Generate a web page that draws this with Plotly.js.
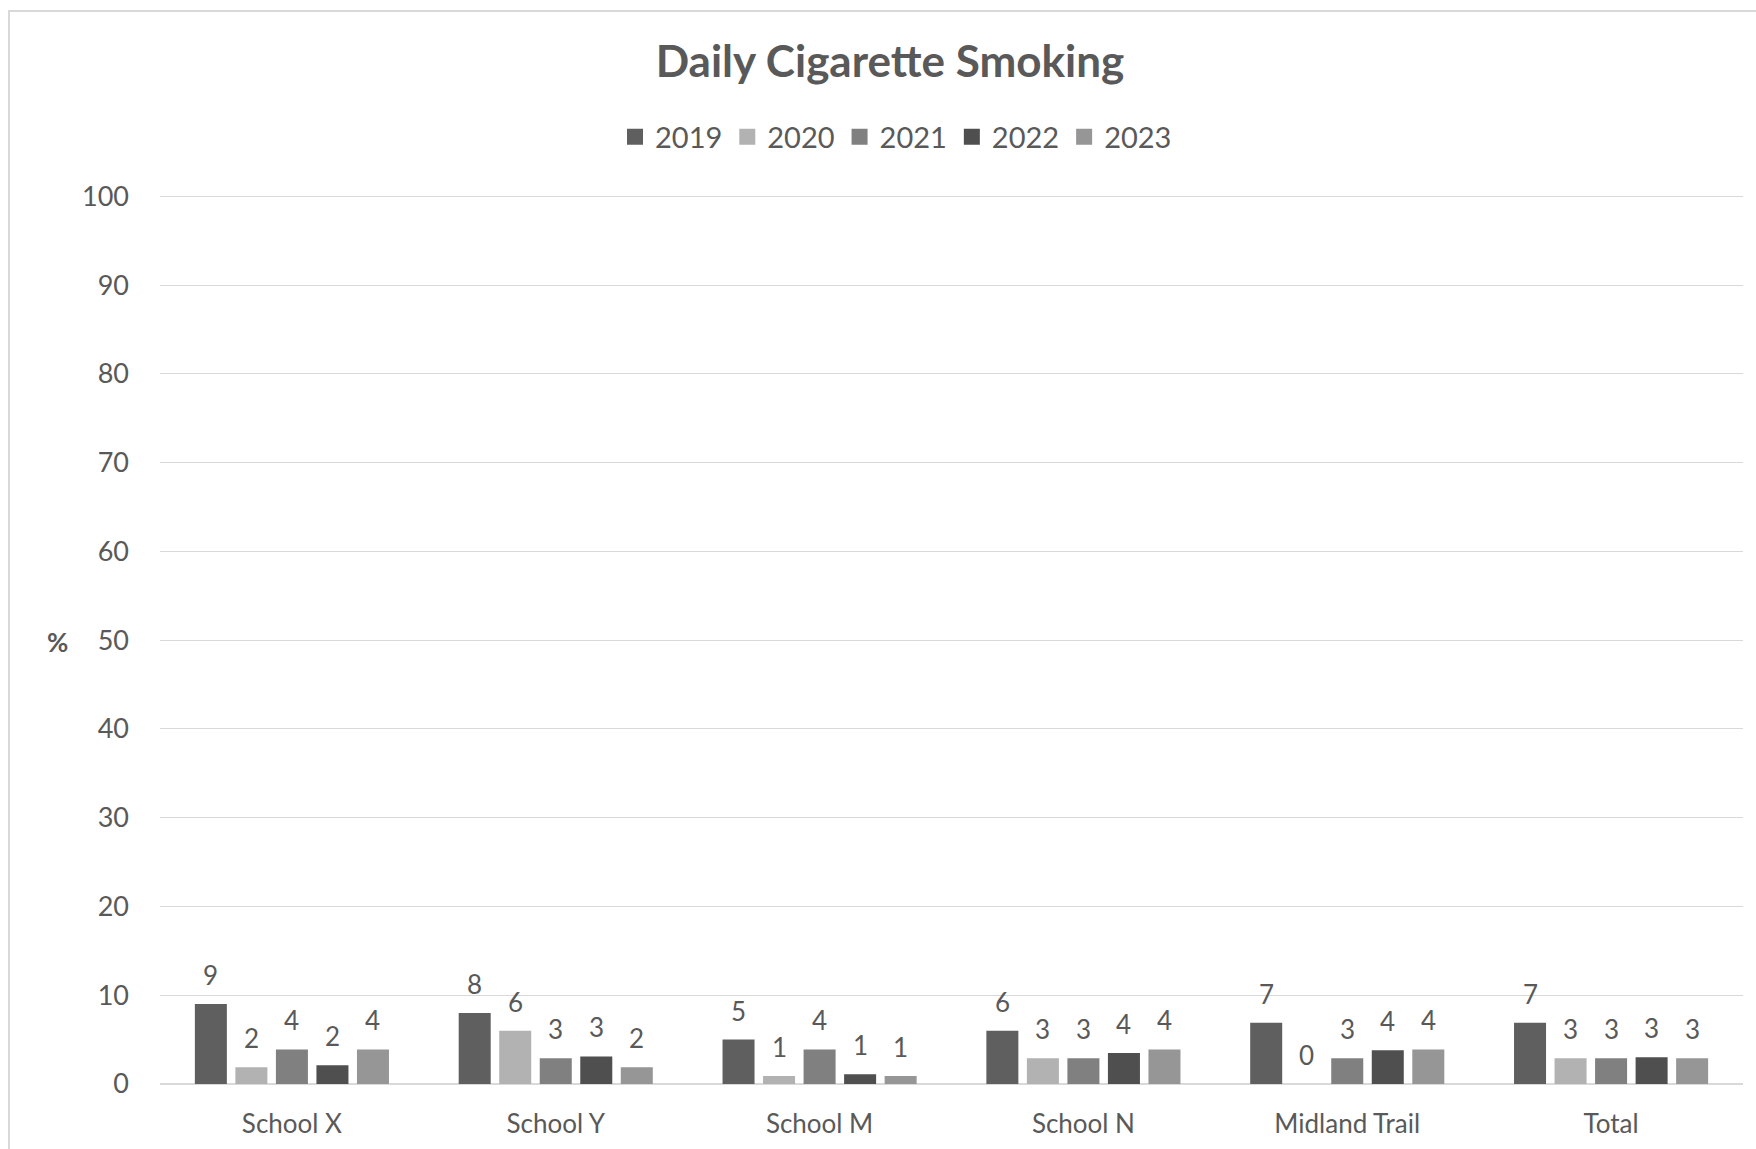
<!DOCTYPE html>
<html>
<head>
<meta charset="utf-8">
<script src="https://cdn.plot.ly/plotly-3.0.1.min.js"></script>
<style>html,body{margin:0;padding:0;background:#fff;}#chart{width:1756px;height:1149px;}</style>
</head>
<body>
<div id="chart"></div>
<script>
var categories = ["School X", "School Y", "School M", "School N", "Midland Trail", "Total"];
var years = ["2019", "2020", "2021", "2022", "2023"];
var v2019 = [9.0, 8.0, 5.0, 6.0, 6.9, 6.9];
var v2020 = [1.9, 6.0, 0.9, 2.9, 0.0, 2.9];
var v2021 = [3.9, 2.9, 3.9, 2.9, 2.9, 2.9];
var v2022 = [2.1, 3.1, 1.1, 3.5, 3.8, 3.0];
var v2023 = [3.9, 1.9, 0.9, 3.9, 3.9, 2.9];
var yTicks = [0, 10, 20, 30, 40, 50, 60, 70, 80, 90, 100];
var colors = ["#5f5f5f", "#b2b2b2", "#808080", "#4f4f4f", "#969696"];

var series = [v2019, v2020, v2021, v2022, v2023];
var W = 1756, H = 1149;
var mL = 160, mR = 13, mT = 192, mB = 65;
var bargap = 0.232, bargroupgap = 0.21;
var font = "Lato, 'Open Sans', sans-serif";
var txt = "#595959";

var traces = series.map(function (vals, i) {
  return {
    type: "bar", name: years[i], x: categories, y: vals,
    marker: { color: colors[i] }, hoverinfo: "skip", showlegend: false
  };
});
// legend-only entries with larger square swatches
series.forEach(function (vals, i) {
  traces.push({
    type: "scatter", mode: "markers", name: years[i],
    x: [categories[0]], y: [null],
    marker: { color: colors[i], symbol: "square", size: 17 },
    hoverinfo: "skip", showlegend: true
  });
});

var pw = W - mL - mR;
var ph = H - mT - mB;
var catW = pw / categories.length;
var pitch = catW * (1 - bargap) / series.length;
var annotations = [];
series.forEach(function (vals, i) {
  vals.forEach(function (v, j) {
    annotations.push({
      x: categories[j], y: v, xref: "x", yref: "y",
      text: String(Math.round(v)), showarrow: false,
      xshift: (i - (series.length - 1) / 2) * pitch, yshift: 29,
      yanchor: "middle", xanchor: "center",
      font: { family: font, size: 26, color: txt }
    });
  });
});
annotations.push({
  xref: "paper", yref: "paper", x: (57 - mL) / pw, y: (H - mB - 642) / ph,
  text: "<b>%</b>", showarrow: false, xanchor: "center", yanchor: "middle",
  font: { family: font, size: 26, color: txt }
});

var layout = {
  width: W, height: H,
  margin: { l: mL, r: mR, t: mT, b: mB, pad: 0 },
  paper_bgcolor: "#fff", plot_bgcolor: "#fff",
  font: { family: font, size: 26, color: txt },
  title: {
    text: "<b>Daily Cigarette Smoking</b>",
    x: 890 / W, xref: "container", xanchor: "center",
    y: 1 - 62 / H, yref: "container", yanchor: "middle",
    font: { family: font, size: 44, color: txt }
  },
  barmode: "group", bargap: bargap, bargroupgap: bargroupgap,
  showlegend: true,
  legend: {
    orientation: "h", x: 896 / W, xref: "container", xanchor: "center",
    y: 1 - 137 / H, yref: "container", yanchor: "middle",
    font: { family: font, size: 29, color: txt },
    itemwidth: 30, traceorder: "normal", itemclick: false
  },
  xaxis: {
    type: "category", showgrid: false, zeroline: false, showline: false,
    ticks: "", ticklabelstandoff: 22, tickfont: { family: font, size: 26, color: txt },
    fixedrange: true
  },
  yaxis: {
    range: [0, 100.5], tickvals: yTicks, ticktext: yTicks.map(String),
    showgrid: true, gridcolor: "#d9d9d9", gridwidth: 1,
    zeroline: true, zerolinecolor: "#d9d9d9", zerolinewidth: 2,
    showline: false, ticks: "", ticklabelstandoff: 30,
    tickfont: { family: font, size: 27, color: txt }, fixedrange: true
  },
  annotations: annotations,
  shapes: [{
    type: "rect", xref: "paper", yref: "paper", layer: "below",
    x0: (9 - mL) / pw, x1: (W + 20 - mL) / pw,
    y0: (H - mB - (H + 20)) / ph, y1: (H - mB - 11) / ph,
    line: { color: "#d9d9d9", width: 2 }, fillcolor: "rgba(0,0,0,0)"
  }]
};

Plotly.newPlot("chart", traces, layout, { displayModeBar: false, staticPlot: true });
</script>
</body>
</html>
